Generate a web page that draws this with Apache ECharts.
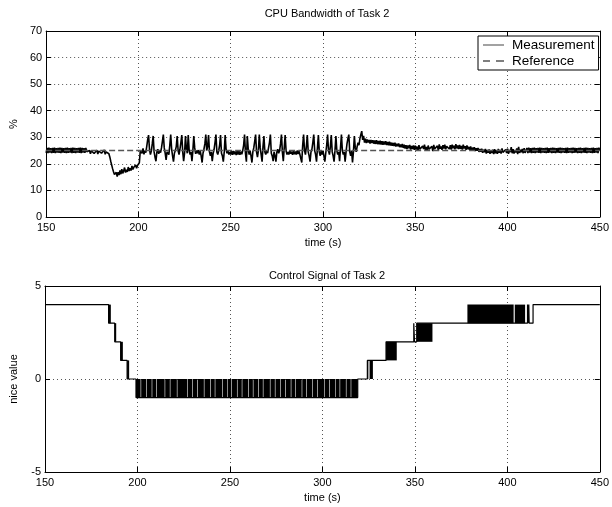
<!DOCTYPE html>
<html>
<head>
<meta charset="utf-8">
<script src="https://cdn.jsdelivr.net/npm/echarts@6/dist/echarts.min.js"></script>
<style>html,body{margin:0;padding:0;background:#fff}#c{width:612px;height:507px}</style>
</head>
<body>
<div id="c"></div>
<script>
// ---- Top plot: CPU bandwidth measurement (%), sampled every 0.5 s, one array per time segment ----
const SAMPLE_STEP = 0.5;
const measA_start = 150, measA = [
24.1,26.0,24.0,26.1,24.2,25.9,24.0,26.0,24.1,26.1,
24.0,25.9,24.2,26.0,24.1,26.1,24.0,26.0,24.2,25.9,
24.1,26.0,24.0,26.1,24.1,25.9,24.2,26.0,24.0,26.1,
24.1,26.0,24.0,25.9,24.2,26.0,24.1,26.1,24.0,26.0,
24.2,25.9,24.1,26.0];
const measB_start = 172, measB = [
24.6,25.2,24.2,25.0,23.8,24.9,24.3,25.3,23.9,24.6,24.2,25.1,
23.7,24.8,24.4,25.3,24.0,24.7,24.3,25.2,23.6,24.5,24.1,24.8];
const measC_start = 184, measC = [
23.8,22.6,21.0,19.6,18.2,17.0,16.0,15.4,16.8,15.2,
16.9,15.8,17.5,16.1,18.0,16.4,17.3,18.6,16.7,17.8,
17.0,18.8,17.3,18.3,17.5,19.2,17.9,18.7,18.1,19.6,
18.3,19.4,18.8,20.4];
const measD_start = 201, measD = [
24.8,25.3, 24.0,25.8, 23.6,25.0, 24.2,26.5, 29.0,30.8,
25.5,23.5, 24.8,27.5, 30.5,24.5, 22.5,21.0, 24.5,25.5,
23.8,25.0, 24.2,26.0, 28.5,31.0, 26.0,24.0, 21.5,24.5,
25.2,23.5, 27.0,31.0, 25.5,23.0, 20.8,24.0, 25.0,26.5,
30.5,25.0, 23.5,25.5, 28.0,30.8, 24.5,21.0, 24.0,30.5,
25.5,24.0, 30.8,25.0, 23.5,24.5, 21.0,25.0, 30.5,26.0,
23.8,25.0, 24.0,25.2, 23.5,24.8, 23.0,20.5, 24.0,25.5,
27.5,31.0, 25.0,26.5, 30.8,24.5, 23.0,24.5, 21.0,24.0,
25.5,28.0, 31.0,24.5, 23.5,25.0, 27.0,30.8, 24.0,23.0,
20.8,24.5, 30.8,25.5, 24.0,25.0, 23.5,24.5];
const measE_start = 250, measE = [
23.5,24.8, 23.4,24.9, 23.6,24.7, 23.3,25.0, 23.5,24.8,
23.4,24.6, 23.6,24.9, 27.0,31.0, 24.0,20.8, 30.5,25.5,
23.5,25.0, 23.0,20.5, 24.5,26.0, 28.5,31.0, 24.5,22.5,
25.0,31.0, 26.0,23.5, 20.8,26.5, 30.5,24.5, 23.5,25.0,
24.0,26.0, 28.0,31.0, 24.0,23.0, 21.0,24.5, 23.0,20.8,
24.5,25.5, 24.0,25.0, 27.5,31.0, 24.5,21.0, 26.0,30.8,
25.0,23.5, 24.5,23.5, 25.0,23.8, 24.6,23.4, 24.9,23.6,
24.7,23.5, 25.0,23.7, 24.8,23.5, 24.0,20.5, 27.0,31.0,
25.0,23.5, 26.5,30.8, 24.5,23.0, 20.8,24.5, 25.5,28.0,
31.0,25.0, 23.5,20.8, 26.0,30.8, 24.5,23.0, 24.8,23.5,
25.0,23.0, 20.8,24.0, 27.0,31.0, 25.0,23.5, 26.5,30.8,
24.5,23.0, 20.8,25.0, 30.5,25.0, 23.5,24.5, 21.0,26.0,
31.0,25.0, 23.5,24.5, 20.8,24.5, 27.5,29.5, 31.0,24.5,
23.0,25.0, 20.5,24.5, 30.5,26.0];
const measF_start = 318, measF = [
24.5,26.5, 28.0,27.0, 29.5,31.0, 32.3,29.0, 30.5,28.0,
29.5,27.8, 29.2,28.0, 29.0,27.6, 29.0,27.8, 28.9,27.6,
28.8,27.5, 28.9,27.4, 28.6,27.4, 28.7,27.3, 28.5,27.2,
28.4,27.3, 28.5,27.1, 28.2,27.0, 28.3,26.9, 28.0,26.8,
27.9,26.7, 28.0,26.5, 27.6,26.6, 27.7,26.3, 27.3,26.2,
27.5,26.0, 27.2,25.8, 27.0,25.6, 26.9,25.9, 27.1,25.4,
26.7,25.6, 26.9,25.3];
const measG_start = 350, measG = [
26.8,25.4, 26.5,25.0, 27.0,25.5, 26.2,25.2, 26.7,25.6,
27.2,25.3, 26.4,24.9, 26.9,25.5, 26.0,25.2, 26.6,24.8,
27.1,25.6, 26.3,25.4, 26.8,25.0, 27.3,25.7, 26.5,25.3,
27.0,25.8, 27.2,25.5, 26.6,25.9, 27.3,25.6, 27.0,25.4,
27.2,25.9, 26.8,25.5, 27.4,25.8, 26.9,25.6, 27.1,25.7,
26.7,25.4, 27.2,25.8, 26.6,25.3, 26.9,25.5, 26.4,25.2,
26.6,25.0, 26.1,25.2, 26.3,24.8, 25.9,24.9, 26.0,24.5,
25.6,24.6, 25.7,24.2, 25.3,24.4, 25.6,23.9, 25.2,24.2,
25.4,23.8, 25.0,24.1, 25.3,23.7, 25.5,24.0, 25.1,23.8,
25.6,24.2, 25.2,23.9, 25.8,24.3, 25.0,23.6, 25.4,24.1,
25.7,23.8, 25.2,24.4, 26.3,24.0, 25.5,23.9, 25.1,24.3,
25.8,23.7, 26.4,24.1, 25.3,24.4, 25.6,24.0, 25.9,24.1];
const measH_start = 410, measH = [
24.1,26.0,24.0,26.1,24.2,25.9,24.0,26.0,24.1,26.1,
24.0,25.9,24.2,26.0,24.1,26.1,24.0,26.0,24.2,25.9,
24.1,26.0,24.0,26.1,24.1,25.9,24.2,26.0,24.0,26.1,
24.1,26.0,24.0,25.9,24.2,26.0,24.1,26.1,24.0,26.0,
24.2,25.9,24.1,26.0,24.0,26.1,24.1,25.9,24.2,26.0,
24.0,26.1,24.1,26.0,24.2,25.9,24.0,26.0,24.1,26.1,
24.0,25.9,24.2,26.0,24.1,26.1,24.0,26.0,24.2,25.9,
24.1,26.0,24.0,26.1,24.1,25.9,24.2,26.0,24.0,26.1,
25.0];

// Reference level (%)
const refTimes = [150, 450];
const refValues = [25, 25];

// ---- Bottom plot: control signal (nice value) ----
// level changes: [time, level held from that time]
const niceSteps = [
  [150, 4], [184.4, 3], [187.7, 2], [190.9, 1], [194.4, 0], [199.2, -1],
  [319.1, 0], [324.3, 1], [334.4, 2], [349.4, 3], [349.8, 2], [351.0, 3],
  [409.6, 3], [410.9, 4], [411.2, 3], [411.6, 4], [411.8, 3], [413.9, 4], [450, 4]
];
// spans where the signal switches rapidly between two levels: [tStart, tEnd, low, high]
const niceToggleSpans = [
  [184.4,185.6,3,4],[187.7,188.5,2,3],[190.9,192.1,1,2],[194.4,195.5,0,1],
  [199.2,201.7,-1,0],[202.0,204.8,-1,0],[205.1,207.7,-1,0],[208.0,210.1,-1,0],
  [210.4,214.7,-1,0],[215.0,217.5,-1,0],[217.8,221.3,-1,0],[221.6,226.8,-1,0],
  [227.1,229.5,-1,0],[229.8,232.3,-1,0],[232.6,235.9,-1,0],[236.2,239.4,-1,0],
  [239.7,241.8,-1,0],[242.1,245.9,-1,0],[246.2,248.4,-1,0],[248.7,250.8,-1,0],
  [251.1,253.8,-1,0],[254.1,256.4,-1,0],[256.7,259.9,-1,0],[260.2,262.4,-1,0],
  [262.7,265.3,-1,0],[265.6,267.8,-1,0],[268.1,271.6,-1,0],[271.9,274.3,-1,0],
  [274.6,277.3,-1,0],[277.6,279.9,-1,0],[280.2,282.9,-1,0],[283.2,285.4,-1,0],
  [285.7,288.8,-1,0],[289.1,291.3,-1,0],[291.6,294.6,-1,0],[294.9,297.3,-1,0],
  [297.6,301.1,-1,0],[301.4,303.7,-1,0],[304.0,306.8,-1,0],[307.1,309.3,-1,0],
  [309.6,312.7,-1,0],[313.0,315.3,-1,0],[315.6,319.1,-1,0],
  [324.3,324.7,0,1],[325.5,327.3,0,1],[334.4,340.2,1,2],
  [351.0,359.5,2,3],[378.4,403.4,3,4],[404.0,409.6,3,4]
];

// axis ticks
const timeMin = 150, timeMax = 450, timeInterval = 50;
const bwMin = 0, bwMax = 70, bwInterval = 10;
const niceMin = -5, niceMax = 5, niceInterval = 5;

function segPairs(start, vals) { return vals.map((v, k) => [start + k * SAMPLE_STEP, v]); }
const measData = [].concat(
  segPairs(measA_start, measA), segPairs(measB_start, measB), segPairs(measC_start, measC),
  segPairs(measD_start, measD), segPairs(measE_start, measE), segPairs(measF_start, measF),
  segPairs(measG_start, measG), segPairs(measH_start, measH));
const refData = refTimes.map((t, i) => [t, refValues[i]]);

const FONT = 'Liberation Sans, Arial, Helvetica, sans-serif';
const txt = { color: '#000', fontFamily: FONT, fontSize: 11 };
const dotted = { show: true, lineStyle: { color: '#555', width: 1, type: [1, 3] } };

function xAx(grid, main) {
  return {
    type: 'value', gridIndex: grid, min: timeMin, max: timeMax, interval: timeInterval,
    position: main ? 'bottom' : 'top',
    axisLine: { show: true, onZero: false, lineStyle: { color: '#000', width: 1 } },
    axisTick: { show: true, inside: true, length: 5, lineStyle: { color: '#000' } },
    axisLabel: main ? Object.assign({ show: true, margin: 5 }, txt) : { show: false },
    splitLine: main ? dotted : { show: false },
    name: main ? 'time (s)' : '', nameLocation: 'middle', nameGap: 20, nameTextStyle: txt
  };
}
function yAx(grid, main, mn, mx, iv, name) {
  return {
    type: 'value', gridIndex: grid, min: mn, max: mx, interval: iv,
    position: main ? 'left' : 'right',
    axisLine: { show: true, onZero: false, lineStyle: { color: '#000', width: 1 } },
    axisTick: { show: true, inside: true, length: 5, lineStyle: { color: '#000' } },
    axisLabel: main ? Object.assign({ show: true, margin: 4 }, txt) : { show: false },
    splitLine: main ? dotted : { show: false },
    name: main ? name : '', nameLocation: 'middle', nameGap: 26, nameRotate: 90, nameTextStyle: txt
  };
}

const chart = echarts.init(document.getElementById('c'), null, { renderer: 'canvas' });
chart.setOption({
  animation: false,
  backgroundColor: '#fff',
  title: [
    { text: 'CPU Bandwidth of Task 2', left: 322, top: 3, textAlign: 'center', textStyle: Object.assign({}, txt, { fontWeight: 'normal' }) },
    { text: 'Control Signal of Task 2', left: 322, top: 265, textAlign: 'center', textStyle: Object.assign({}, txt, { fontWeight: 'normal' }) }
  ],
  grid: [
    { left: 42, right: 10, top: 31, height: 186 },
    { left: 42, right: 10, top: 286, height: 186 }
  ],
  legend: {
    orient: 'vertical', left: 478, top: 36,
    backgroundColor: '#fff', borderColor: '#000', borderWidth: 1, borderRadius: 0,
    padding: [1, 4, 1, 5], itemGap: 0, itemWidth: 21, itemHeight: 1.3,
    textStyle: Object.assign({}, txt, { fontSize: 13.5, lineHeight: 16, padding: [0, 0, 0, 3] }),
    data: [
      { name: 'Measurement', icon: 'path://M0,0H21V1H0Z', itemStyle: { color: '#444' } },
      { name: 'Reference', icon: 'path://M0,0H7V1H0ZM13,0H21V1H13Z', itemStyle: { color: '#000' } }
    ]
  },
  xAxis: [xAx(0, true), xAx(0, false), xAx(1, true), xAx(1, false)],
  yAxis: [
    yAx(0, true, bwMin, bwMax, bwInterval, '%'), yAx(0, false, bwMin, bwMax, bwInterval, ''),
    yAx(1, true, niceMin, niceMax, niceInterval, 'nice value'), yAx(1, false, niceMin, niceMax, niceInterval, '')
  ],
  series: [
    { name: 'Measurement', type: 'line', xAxisIndex: 0, yAxisIndex: 0, data: measData, symbol: 'none',
      lineStyle: { color: '#000', width: 1.6 }, itemStyle: { color: '#000' } },
    { name: 'Reference', type: 'line', xAxisIndex: 0, yAxisIndex: 0, data: refData, symbol: 'none',
      lineStyle: { color: '#555', width: 1.4, type: [6, 3] }, itemStyle: { color: '#555' } },
    { name: 'nice', type: 'line', step: 'end', xAxisIndex: 2, yAxisIndex: 2, data: niceSteps, symbol: 'none',
      lineStyle: { color: '#000', width: 1.2 } },
    { name: 'toggle', type: 'custom', xAxisIndex: 2, yAxisIndex: 2, data: niceToggleSpans,
      encode: { x: [0, 1], y: [2, 3] },
      renderItem: function (params, api) {
        const p1 = api.coord([api.value(0), api.value(3)]);
        const p2 = api.coord([api.value(1), api.value(2)]);
        return { type: 'rect', shape: { x: p1[0], y: p1[1], width: Math.max(p2[0] - p1[0], 1), height: p2[1] - p1[1] },
          style: { fill: '#000' } };
      } }
  ]
});
</script>
</body>
</html>
